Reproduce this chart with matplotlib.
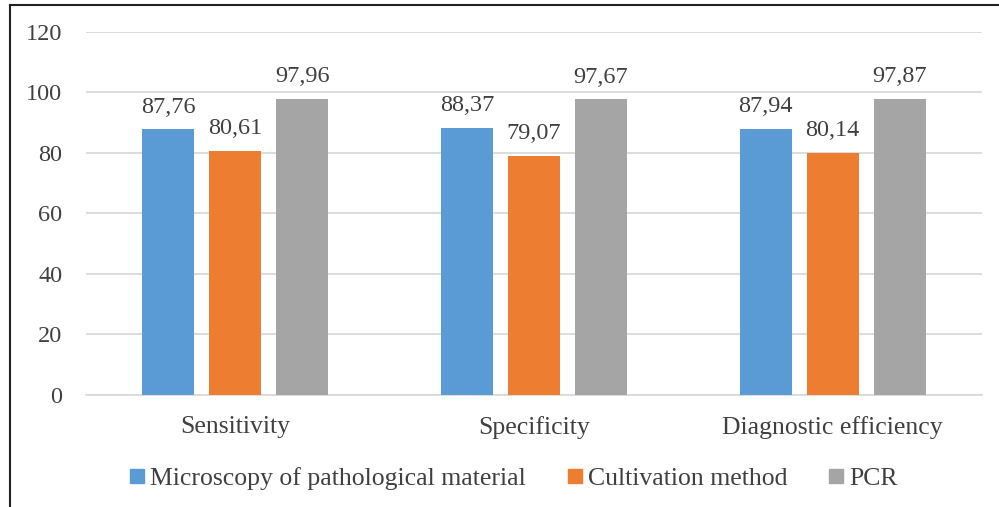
import matplotlib.pyplot as plt
import numpy as np
from matplotlib.lines import Line2D

categories = ["Sensitivity", "Specificity", "Diagnostic efficiency"]
series_names = ["Microscopy of pathological material", "Cultivation method", "PCR"]
microscopy = [87.76, 88.37, 87.94]
cultivation = [80.61, 79.07, 80.14]
pcr = [97.96, 97.67, 97.87]
yticks = [0, 20, 40, 60, 80, 100, 120]

colors = ["#5B9BD5", "#ED7D31", "#A5A5A5"]
text_color = "#404040"

plt.rcParams["font.family"] = ["Liberation Serif", "DejaVu Serif"]

fig = plt.figure(figsize=(9.99, 5.07), dpi=100)
ax = fig.add_axes([0.086, 0.221, 0.897, 0.716])

x = np.arange(len(categories))
width = 0.174
step = 0.224
for i, (vals, name) in enumerate(zip([microscopy, cultivation, pcr], series_names)):
    pos = x + (i - 1) * step
    ax.bar(pos, vals, width, color=colors[i], label=name, zorder=3)
    for xp, v in zip(pos, vals):
        ax.text(xp, v + 5.5, f"{v:.2f}".replace(".", ","), ha="center", va="baseline",
                fontsize=17.5, color=text_color)

ax.set_xlim(-0.5, 2.5)
ax.set_ylim(0, 120)
ax.set_yticks(yticks)
ax.yaxis.grid(True, color="#D9D9D9", linewidth=1.3, zorder=0)
ax.set_axisbelow(True)
for s in ["top", "right", "left"]:
    ax.spines[s].set_visible(False)
ax.spines["bottom"].set_color("#D9D9D9")
ax.spines["bottom"].set_linewidth(1.3)
ax.tick_params(axis="both", length=0, labelcolor=text_color)
ax.tick_params(axis="y", pad=17, labelsize=17.5)
ax.tick_params(axis="x", pad=15, labelsize=18.5)
ax.set_xticks(x)
ax.set_xticklabels(categories)

handles = [Line2D([], [], marker="s", linestyle="", markersize=9.5, color=c) for c in colors]
leg = fig.legend(handles, series_names, loc="center", bbox_to_anchor=(0.514, 0.057), ncol=3,
                 frameon=False, fontsize=18.5, handletextpad=0.2, columnspacing=1.6,
                 handlelength=0.6)
for t in leg.get_texts():
    t.set_color(text_color)

# frame lines (top and left only, as in the source image)
fig.add_artist(Line2D([10 / 999, 1.0], [1 - 5 / 507, 1 - 5 / 507], color="#222222",
                      linewidth=1.5, transform=fig.transFigure))
fig.add_artist(Line2D([10 / 999, 10 / 999], [0, 1 - 5 / 507], color="#222222",
                      linewidth=1.5, transform=fig.transFigure))

fig.savefig("out.png", dpi=100)
